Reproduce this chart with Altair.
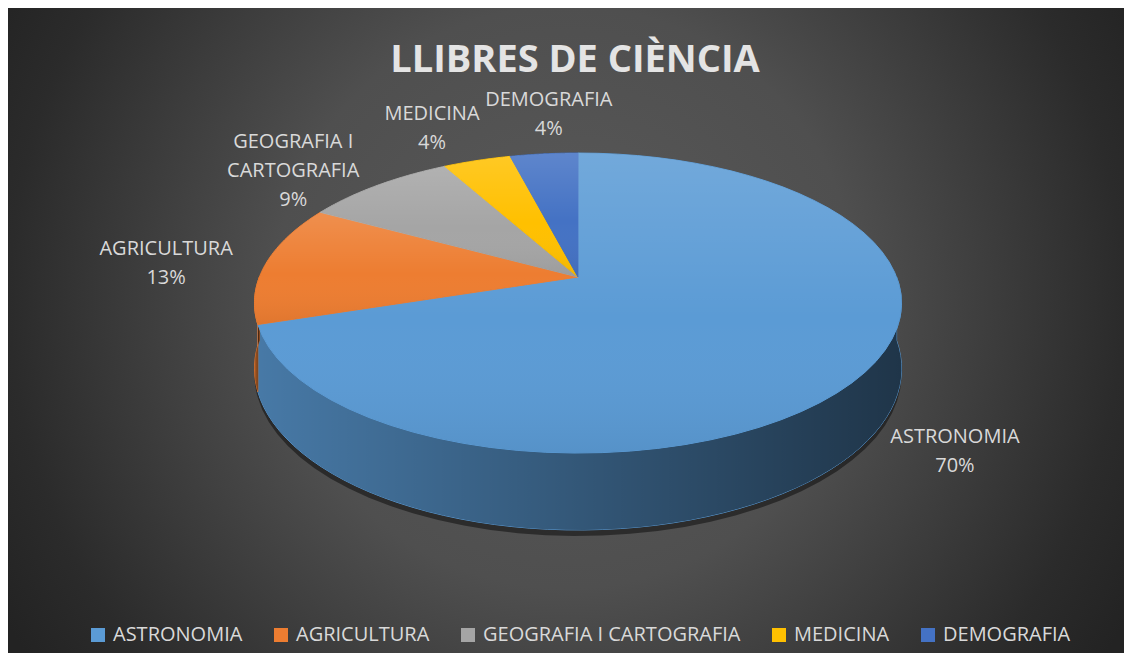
import altair as alt
import pandas as pd

# ---------------- data ----------------
categories = ["ASTRONOMIA", "AGRICULTURA", "GEOGRAFIA I CARTOGRAFIA", "MEDICINA", "DEMOGRAFIA"]
label_names = ["ASTRONOMIA", "AGRICULTURA", "GEOGRAFIA I\nCARTOGRAFIA", "MEDICINA", "DEMOGRAFIA"]
shares = [70, 13, 9, 4, 4]
colors = ["#5b9bd5", "#ed7d31", "#a5a5a5", "#ffc000", "#4472c4"]
title_text = "LLIBRES DE CIÈNCIA"

df = pd.DataFrame({
    "cat": categories,
    "label": label_names,
    "val": shares,
    "idx": list(range(len(categories))),
})

# ---------------- geometry / style constants ----------------
W, H = 1116, 645          # canvas = view size
CX, CY = 570, 269         # pie apex inside the view (px)
N = 60                    # samples per slice rim
A, B, K, DP = 318.6, 145.5, 0.1734, 63.6   # 3D perspective ellipse parameters
HX, HY = 100, 40          # label push-out
LH = 29                   # label line height
CW, GAP = 12.5, 20        # approx char width / gap for label collision check

xscale = alt.Scale(domain=[-CX, W - CX], nice=False, zero=False)
yscale = alt.Scale(domain=[-(H - CY), CY], nice=False, zero=False)
cscale = alt.Scale(domain=categories, range=colors)
leg = alt.Legend(symbolType="square", symbolSize=196, symbolStrokeWidth=0)

X = alt.X("px:Q", scale=xscale, axis=None)
Y = alt.Y("py:Q", scale=yscale, axis=None)

base = alt.Chart(df).transform_joinaggregate(
    total="sum(val)"
).transform_window(
    cum="sum(val)", sort=[alt.SortField("idx")], frame=[None, 0]
).transform_calculate(
    a0="2*PI*(datum.cum - datum.val)/datum.total"
).transform_calculate(
    a1="2*PI*datum.cum/datum.total"
)

# top face polygons (rim samples + apex)
top_pts = base.transform_calculate(
    k=f"sequence(0, {N + 2})"
).transform_flatten(["k"]).transform_calculate(
    t=f"datum.a0 + (datum.a1 - datum.a0)*min(datum.k, {N})/{N}"
).transform_calculate(
    den=f"1 + {K}*cos(datum.t)"
).transform_calculate(
    rim=f"datum.k <= {N} ? 1 : 0"
).transform_calculate(
    px=f"datum.rim*{A}*sin(datum.t)/datum.den"
).transform_calculate(
    py=f"datum.rim*{B}*cos(datum.t)/datum.den"
)

# side (front half) polygons
side_pts = base.transform_calculate(
    s="max(datum.a0, PI/2)"
).transform_calculate(
    e="min(datum.a1, 3*PI/2)"
).transform_filter("datum.s < datum.e").transform_calculate(
    k=f"sequence(0, {2 * N + 2})"
).transform_flatten(["k"]).transform_calculate(
    j=f"datum.k <= {N} ? datum.k : {2 * N + 1} - datum.k"
).transform_calculate(
    t=f"datum.s + (datum.e - datum.s)*datum.j/{N}"
).transform_calculate(
    den=f"1 + {K}*cos(datum.t)"
).transform_calculate(
    px=f"{A}*sin(datum.t)/datum.den"
).transform_calculate(
    py=f"{B}*cos(datum.t)/datum.den - (datum.k <= {N} ? 0 : {DP}/datum.den)"
)

poly = dict(interpolate="linear-closed", filled=True)

bg = alt.Chart(pd.DataFrame({"bg": [0]})).mark_rect(
    fill=alt.Gradient(
        gradient="radial", x1=0.5, y1=0.47, r1=0, x2=0.5, y2=0.47, r2=0.58,
        stops=[alt.GradientStop(offset=0, color="#5a5a5a"),
               alt.GradientStop(offset=0.45, color="#4f4f4f"),
               alt.GradientStop(offset=0.86, color="#2b2b2b"),
               alt.GradientStop(offset=1, color="#232323")],
    )
).encode(x=alt.value(0), x2=alt.value(W), y=alt.value(0), y2=alt.value(H))

shadow = top_pts.transform_calculate(
    sy=f"datum.py - {DP}/datum.den - 6"
).mark_line(**poly, fill="#000000", fillOpacity=0.45, strokeWidth=0).encode(
    x=X, y=alt.Y("sy:Q", scale=yscale, axis=None),
    order=alt.Order("k:Q"), detail="cat:N",
)

side = side_pts.mark_line(**poly, strokeWidth=1).encode(
    x=X, y=Y,
    fill=alt.Fill("cat:N", scale=cscale, title=None, legend=leg),
    stroke=alt.Stroke("cat:N", scale=cscale, legend=None),
    order=alt.Order("k:Q"), detail="cat:N",
)

side_shade = side_pts.mark_line(
    **poly, strokeWidth=0,
    fill=alt.Gradient(
        gradient="linear", x1=0, y1=0, x2=1, y2=0,
        stops=[alt.GradientStop(offset=0, color="rgba(0,0,0,0.22)"),
               alt.GradientStop(offset=1, color="rgba(0,0,0,0.66)")],
    ),
).encode(x=X, y=Y, order=alt.Order("k:Q"), detail="cat:N")

top = top_pts.mark_line(**poly, strokeWidth=1).encode(
    x=X, y=Y,
    fill=alt.Fill("cat:N", scale=cscale, title=None, legend=leg),
    stroke=alt.Stroke("cat:N", scale=cscale, legend=None),
    order=alt.Order("k:Q"), detail="cat:N",
)

top_shade = top_pts.mark_line(
    **poly, strokeWidth=0,
    fill=alt.Gradient(
        gradient="linear", x1=0, y1=0, x2=0, y2=1,
        stops=[alt.GradientStop(offset=0, color="rgba(255,255,255,0.14)"),
               alt.GradientStop(offset=0.55, color="rgba(255,255,255,0)"),
               alt.GradientStop(offset=1, color="rgba(0,0,0,0.06)")],
    ),
).encode(x=X, y=Y, order=alt.Order("k:Q"), detail="cat:N")

labels = base.transform_calculate(
    am="(datum.a0 + datum.a1)/2"
).transform_calculate(
    den=f"1 + {K}*cos(datum.am)"
).transform_calculate(
    ex=f"{A}*sin(datum.am)/datum.den"
).transform_calculate(
    ey=f"{B}*cos(datum.am)/datum.den - (cos(datum.am) < 0 ? {DP}/datum.den : 0)"
).transform_calculate(
    w="length(split(datum.label, '\\n')[0])"
).transform_calculate(
    txt='datum.label + "\\n" + format(datum.val/datum.total, ".0%")'
).transform_calculate(
    nl="length(split(datum.txt, '\\n'))"
).transform_calculate(
    lx0=f"datum.ex + {HX}*(sin(datum.am) < 0 ? -1 : 1)*sqrt(abs(sin(datum.am)))"
).transform_calculate(
    ly=f"datum.ey + {HY}*pow(cos(datum.am), 3) + (datum.nl - 1)*{LH}/2"
).transform_window(
    prev_x="lag(lx0)", prev_y="lag(ly)", prev_w="lag(w)",
    sort=[alt.SortField("idx")],
).transform_calculate(
    sep=f"(datum.w + datum.prev_w)/2*{CW} + {GAP}"
).transform_calculate(
    lx="isValid(datum.prev_x) && abs(datum.ly - datum.prev_y) < 60 && "
       "datum.lx0 > datum.prev_x && datum.lx0 - datum.prev_x < datum.sep "
       "? datum.prev_x + datum.sep : datum.lx0"
).mark_text(
    font="Open Sans", fontSize=20, color="#d9d9d9", align="center",
    baseline="middle", lineBreak="\n", lineHeight=LH,
).encode(
    x=alt.X("lx:Q", scale=xscale, axis=None),
    y=alt.Y("ly:Q", scale=yscale, axis=None),
    text="txt:N",
)

chart = alt.layer(bg, shadow, side, side_shade, top, top_shade, labels).properties(
    width=W, height=H, padding=0,
    autosize=alt.AutoSizeParams(type="none"),
    background="#262626",
    title=alt.TitleParams(
        text=title_text, anchor="middle", orient="top", frame="group",
        offset=0, dy=102, dx=9, baseline="alphabetic",
        font="Open Sans", fontSize=38, fontWeight="bold", color="#e4e4e4",
    ),
).configure_view(stroke=None).configure_legend(
    orient="none", legendX=80, legendY=617, direction="horizontal",
    labelFont="Open Sans", labelFontSize=20, labelColor="#d9d9d9",
    labelOffset=5, columnPadding=28, padding=0, labelLimit=400,
)

chart.save("out.html", embed_options={"renderer": "svg", "actions": False})
